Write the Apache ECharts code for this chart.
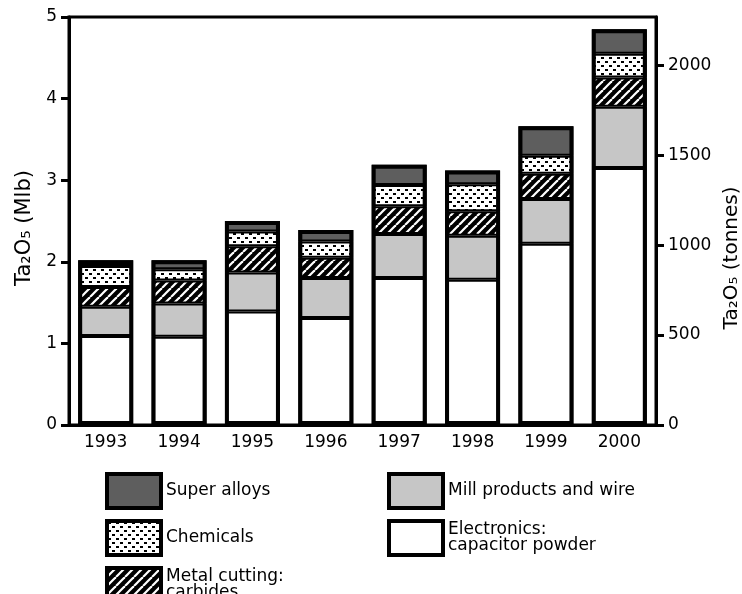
<!DOCTYPE html>
<html><head><meta charset="utf-8">
<script src="https://cdn.jsdelivr.net/npm/echarts@6/dist/echarts.min.js"></script>
<style>html,body{margin:0;padding:0;background:#fff}#c{width:742px;height:594px}</style>
</head><body><div id="c"></div>
<script>
// ---- data (Ta2O5, million lb) ----
const years = ['1993','1994','1995','1996','1997','1998','1999','2000'];
const electronics = [1.09, 1.08, 1.39, 1.31, 1.80, 1.78, 2.22, 3.15];
const mill        = [0.36, 0.41, 0.48, 0.49, 0.54, 0.54, 0.55, 0.75];
const metal       = [0.24, 0.28, 0.32, 0.25, 0.34, 0.30, 0.31, 0.36];
const chemicals   = [0.26, 0.14, 0.18, 0.20, 0.26, 0.33, 0.22, 0.29];
const superAlloys = [0.07, 0.11, 0.13, 0.14, 0.25, 0.17, 0.36, 0.30];
const seriesNames = ['Electronics', 'Mill products and wire', 'Metal cutting', 'Chemicals', 'Super alloys'];
const legendLabels = {
  'Electronics': 'Electronics:\ncapacitor powder',
  'Mill products and wire': 'Mill products and wire',
  'Metal cutting': 'Metal cutting:\ncarbides',
  'Chemicals': 'Chemicals',
  'Super alloys': 'Super alloys'
};
const leftTicks = [0, 1, 2, 3, 4, 5];
const rightTicks = [0, 500, 1000, 1500, 2000];
const TONNES_PER_MLB = 453.59237;

// ---- fill patterns ----
function hatch() {
  const s = 9, c = document.createElement('canvas'); c.width = s; c.height = s;
  const g = c.getContext('2d');
  g.fillStyle = '#000'; g.fillRect(0, 0, s, s);
  g.strokeStyle = '#fff'; g.lineWidth = 2.2;
  for (let k = -s; k <= 2 * s; k += s) { g.beginPath(); g.moveTo(k, s); g.lineTo(k + s, 0); g.stroke(); }
  return c;
}
function dots() {
  const w = 8, h = 8, c = document.createElement('canvas'); c.width = w; c.height = h;
  const g = c.getContext('2d');
  g.fillStyle = '#fff'; g.fillRect(0, 0, w, h);
  g.fillStyle = '#000';
  g.fillRect(1, 1, 3, 2); g.fillRect(5, 5, 3, 2);
  return c;
}
const fills = {
  'Electronics': '#ffffff',
  'Mill products and wire': '#c6c6c6',
  'Metal cutting': { image: hatch(), repeat: 'repeat' },
  'Chemicals': { image: dots(), repeat: 'repeat' },
  'Super alloys': '#5e5e5e'
};
const values = {
  'Electronics': electronics,
  'Mill products and wire': mill,
  'Metal cutting': metal,
  'Chemicals': chemicals,
  'Super alloys': superAlloys
};
// bar outline = stack total
const totals = years.map((_, i) => seriesNames.reduce((s, n) => s + values[n][i], 0));

const FONT = 'DejaVu Sans';
const legendCommon = {
  orient: 'vertical', itemWidth: 54, itemHeight: 34, itemGap: 9, padding: 0, height: 200,
  icon: 'rect', selectedMode: false,
  formatter: n => legendLabels[n],
  itemStyle: { borderWidth: 4, borderColor: '#000' },
  textStyle: { fontSize: 17, fontFamily: FONT, color: '#000', lineHeight: 16 }
};
const chart = echarts.init(document.getElementById('c'), null, { renderer: 'canvas' });
chart.setOption({
  animation: false,
  textStyle: { fontFamily: FONT, color: '#000' },
  grid: { left: 69, right: 86, top: 17, bottom: 169, show: true, borderColor: '#000', borderWidth: 3,
          outerBoundsMode: 'none', containLabel: false },
  xAxis: {
    type: 'category', data: years,
    axisLine: { lineStyle: { color: '#000', width: 3 } },
    axisTick: { show: false },
    axisLabel: { color: '#000', fontSize: 17, fontFamily: FONT, margin: 9 }
  },
  yAxis: [{
    type: 'value', min: 0, max: 5, interval: 1,
    name: 'Ta₂O₅ (Mlb)', nameLocation: 'middle', nameGap: 34, nameRotate: 90,
    nameTextStyle: { fontSize: 21, fontFamily: FONT, color: '#000', padding: [0, 14, 0, 0] },
    axisLine: { show: true, lineStyle: { color: '#000', width: 3 } },
    axisTick: { show: true, length: 8, lineStyle: { color: '#000', width: 3 } },
    axisLabel: { color: '#000', fontSize: 17, fontFamily: FONT, margin: 12 },
    splitLine: { show: false }
  }, {
    type: 'value', min: 0, max: 5 * TONNES_PER_MLB, position: 'right',
    name: 'Ta₂O₅ (tonnes)', nameLocation: 'middle', nameGap: 66, nameRotate: 90,
    nameTextStyle: { fontSize: 20, fontFamily: FONT, color: '#000', padding: [0, 74, 0, 0] },
    axisLine: { show: true, lineStyle: { color: '#000', width: 3 } },
    axisTick: { show: true, length: 8, customValues: rightTicks, lineStyle: { color: '#000', width: 3 } },
    axisLabel: { color: '#000', fontSize: 17, fontFamily: FONT, margin: 12, customValues: rightTicks,
                 formatter: v => String(Math.round(v)) },
    splitLine: { show: false }
  }],
  legend: [
    Object.assign({ left: 105, top: 472, data: ['Super alloys', 'Chemicals', 'Metal cutting'] }, legendCommon),
    Object.assign({ left: 387, top: 472, data: ['Mill products and wire', 'Electronics'] }, legendCommon)
  ],
  series: seriesNames.map(n => ({
    name: n, type: 'bar', stack: 'total', barWidth: 55,
    data: values[n],
    itemStyle: { color: fills[n], borderColor: '#000', borderWidth: 2 },
    emphasis: { disabled: true }
  })).concat([{
    name: 'outline', type: 'bar', barWidth: 55, barGap: '-100%', z: 3,
    data: totals, silent: true,
    itemStyle: { color: 'rgba(0,0,0,0)', borderColor: '#000', borderWidth: 4 },
    emphasis: { disabled: true }
  }])
});
</script></body></html>
